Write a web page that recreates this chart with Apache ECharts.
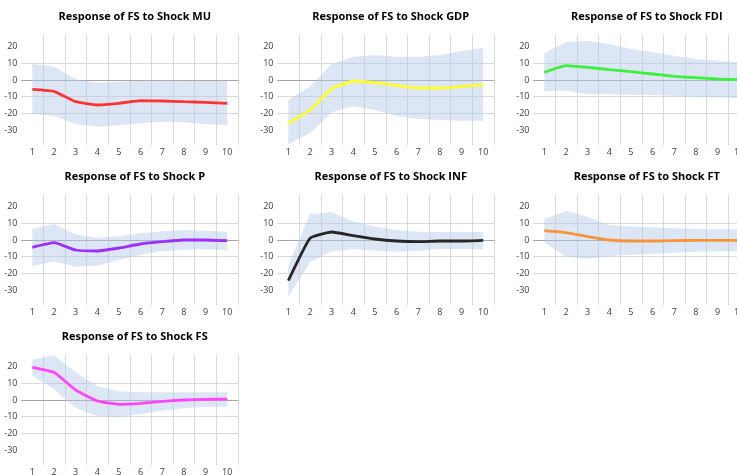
<!DOCTYPE html>
<html>
<head>
<meta charset="utf-8">
<script src="https://cdn.jsdelivr.net/npm/echarts@6/dist/echarts.min.js"></script>
<style>
  html, body { margin: 0; padding: 0; background: #fff; }
  #chart { width: 737px; height: 475px; }
</style>
</head>
<body>
<div id="chart"></div>
<script>
const periods = ['1', '2', '3', '4', '5', '6', '7', '8', '9', '10'];
const yTicks = [-30, -20, -10, 0, 10, 20];

// impulse responses and confidence bands
const muResp  = [-5.6, -6.8, -13, -15, -14, -12.4, -12.6, -13, -13.4, -14];
const muUpper = [9.6, 8, 0.4, -1.6, -1, -0.4, -0.3, -0.4, -0.5, -0.5];
const muLower = [-20.4, -21.4, -26.4, -28, -27.2, -26, -25, -25.4, -26.4, -27.2];

const gdpResp  = [-26, -18, -5.4, -0.6, -1.6, -3.4, -4.8, -4.8, -4, -2.8];
const gdpUpper = [-12, -4, 9.6, 14, 15, 14, 14, 15, 17.2, 19.4];
const gdpLower = [-38.5, -32, -19.4, -15.8, -18, -21.4, -23.4, -24, -24.4, -24.4];

const fdiResp  = [4.6, 8.6, 7.6, 6.2, 5, 3.6, 2.2, 1.4, 0.6, 0.2];
const fdiUpper = [16.2, 22.6, 23.6, 21.6, 18.6, 16.6, 14.6, 12.6, 11.6, 10.6];
const fdiLower = [-6.8, -6.4, -8.6, -8.6, -8.8, -9, -9.4, -10, -10.4, -10.8];

const pResp  = [-4.4, -1.6, -6, -6.6, -4.8, -2.4, -1, 0, 0, -0.4];
const pUpper = [6.6, 9.6, 3.4, 1.4, 2.2, 4, 5.2, 6, 5.6, 5];
const pLower = [-15.6, -12.8, -16, -15.4, -12, -8.8, -6.8, -5.8, -5.6, -6];

const infResp  = [-24.4, 1, 4.8, 2.6, 0.6, -0.6, -1, -0.6, -0.6, -0.2];
const infUpper = [-15.4, 15.6, 16.6, 11.2, 8, 6, 5, 4.8, 4.8, 4.8];
const infLower = [-34, -13.4, -6.8, -5.4, -6.4, -7, -6.4, -5.4, -5.4, -5.6];

const ftResp  = [5.6, 4.4, 2, 0, -0.6, -0.6, -0.4, -0.2, -0.2, -0.2];
const ftUpper = [12.6, 17.6, 14, 9, 8, 7.6, 7, 6.6, 6.4, 6.4];
const ftLower = [-1.4, -10, -11.4, -9.6, -8.8, -8.4, -7.6, -7, -6.8, -6.8];

const fsResp  = [19.6, 16.6, 6, -0.6, -2.6, -2, -0.8, 0, 0.4, 0.5];
const fsUpper = [24.2, 26.8, 16.6, 8.2, 5.2, 4.6, 4.6, 4.6, 4.6, 4.6];
const fsLower = [14.6, 6.6, -5, -9.6, -10.4, -8.4, -6.4, -5, -4, -4];

const panels = [
  { name: 'MU',  resp: muResp,  upper: muUpper,  lower: muLower,  color: '#ff3535', row: 0, col: 0 },
  { name: 'GDP', resp: gdpResp, upper: gdpUpper, lower: gdpLower, color: '#ffff30', row: 0, col: 1 },
  { name: 'FDI', resp: fdiResp, upper: fdiUpper, lower: fdiLower, color: '#3cf03c', row: 0, col: 2 },
  { name: 'P',   resp: pResp,   upper: pUpper,   lower: pLower,   color: '#9b30ff', row: 1, col: 0 },
  { name: 'INF', resp: infResp, upper: infUpper, lower: infLower, color: '#262626', row: 1, col: 1 },
  { name: 'FT',  resp: ftResp,  upper: ftUpper,  lower: ftLower,  color: '#f7943a', row: 1, col: 2 },
  { name: 'FS',  resp: fsResp,  upper: fsUpper,  lower: fsLower,  color: '#ff45ff', row: 2, col: 0 }
];

const chart = echarts.init(document.getElementById('chart'));

const titles = [], grids = [], xAxes = [], yAxes = [], series = [];

panels.forEach((p, i) => {
  const left = 21.5 + p.col * 256;
  const top = 35 + p.row * 160;
  const width = 216.5;

  titles.push({
    text: 'Response of FS to Shock ' + p.name,
    left: left + width / 2,
    top: top - 29,
    textAlign: 'center',
    textStyle: { fontFamily: 'Open Sans', fontWeight: 'bold', fontSize: 11, color: '#000' }
  });

  // third column runs off the canvas like the original, so don't let echarts squeeze it
  grids.push({ left: left, top: top, width: width, height: 110, containLabel: false, outerBoundsMode: 'none' });

  xAxes.push({
    type: 'category',
    gridIndex: i,
    data: periods,
    boundaryGap: true,
    axisLine: { onZero: true, lineStyle: { color: '#a6a6a6', width: 1 } },
    axisTick: { show: false },
    axisLabel: { margin: 3, color: '#404040', fontSize: 9, fontFamily: 'Open Sans', verticalAlign: 'top' },
    splitLine: { show: true, showMinLine: false, lineStyle: { color: '#d9d9d9' } }
  });

  yAxes.push({
    type: 'value',
    gridIndex: i,
    min: -39,
    max: 27,
    axisLine: { show: false },
    axisTick: { show: false, customValues: yTicks },
    axisLabel: { customValues: yTicks, margin: 4, color: '#404040', fontSize: 9, fontFamily: 'Open Sans' },
    splitLine: { show: true, showMinLine: false, showMaxLine: false, lineStyle: { color: '#d9d9d9' } }
  });

  series.push({
    type: 'line',
    xAxisIndex: i, yAxisIndex: i,
    stack: 'band' + i,
    stackStrategy: 'all',
    data: p.lower,
    symbol: 'none',
    lineStyle: { opacity: 0 },
    silent: true,
    z: 1
  });
  series.push({
    type: 'line',
    xAxisIndex: i, yAxisIndex: i,
    stack: 'band' + i,
    stackStrategy: 'all',
    data: p.upper.map((u, k) => +(u - p.lower[k]).toFixed(2)),
    symbol: 'none',
    lineStyle: { opacity: 0 },
    areaStyle: { color: 'rgba(180,199,231,0.45)', opacity: 1 },
    silent: true,
    z: 1
  });
  series.push({
    type: 'line',
    xAxisIndex: i, yAxisIndex: i,
    data: p.resp,
    symbol: 'none',
    smooth: 0.12,
    lineStyle: { color: p.color, width: 2.8 },
    z: 3
  });
});

chart.setOption({
  animation: false,
  backgroundColor: '#fff',
  title: titles,
  grid: grids,
  xAxis: xAxes,
  yAxis: yAxes,
  series: series
});
</script>
</body>
</html>
